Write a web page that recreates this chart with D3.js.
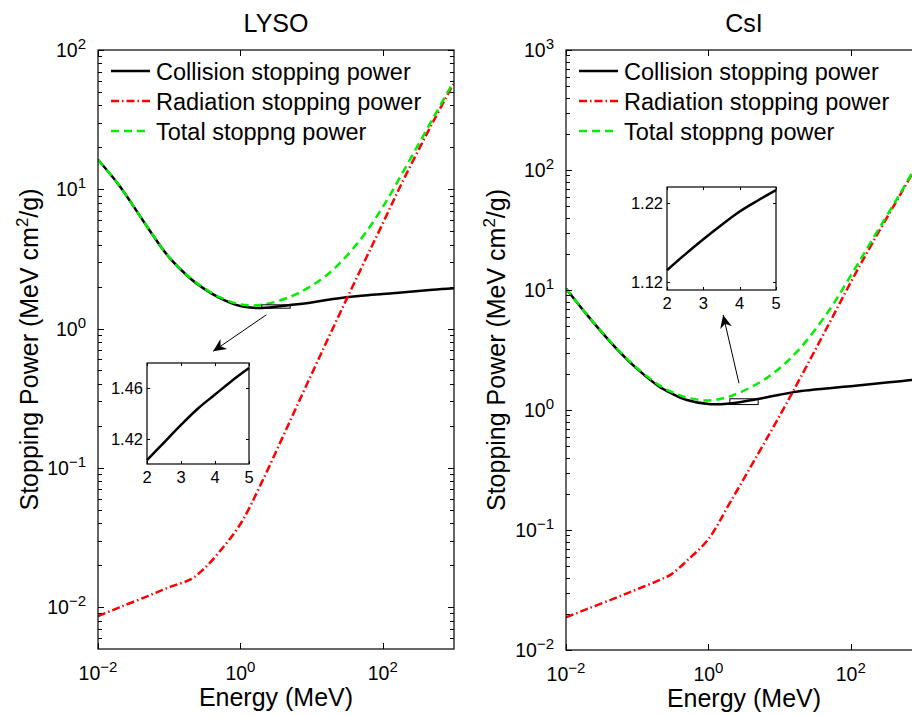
<!DOCTYPE html>
<html>
<head>
<meta charset="utf-8">
<script src="https://cdn.jsdelivr.net/npm/d3@7"></script>
<style>
  body { margin: 0; background: #fff; }
  svg { display: block; font-family: "Liberation Sans", Arial, sans-serif; }
</style>
</head>
<body>
<div id="root"></div>
<script>
// energies (MeV) at which the curves were read
var energy = [0.01, 0.02, 0.05, 0.1, 0.2, 0.3, 0.5, 1, 2, 5, 10, 20, 50, 100, 200, 500, 1000];

// LYSO stopping powers (MeV cm2/g)
var lysoCollision = [16.3, 10.6, 5.3, 3.24, 2.28, 1.95, 1.67, 1.45, 1.403, 1.476, 1.54, 1.63, 1.72, 1.77, 1.82, 1.90, 1.95];
var lysoRadiation = [0.0086, 0.00995, 0.0120, 0.0139, 0.0158, 0.0186, 0.0247, 0.0395, 0.0789, 0.218, 0.471, 1.01, 2.72, 5.7, 12.0, 30, 58];
var lysoTotal = [16.3, 10.6, 5.31, 3.25, 2.30, 1.97, 1.69, 1.49, 1.48, 1.69, 2.03, 2.64, 4.44, 7.47, 13.8, 31.9, 60];

// CsI stopping powers (MeV cm2/g)
var csiCollision = [10.3, 6.15, 3.30, 2.20, 1.58, 1.38, 1.21, 1.12, 1.135, 1.236, 1.34, 1.44, 1.52, 1.58, 1.65, 1.74, 1.81];
var csiRadiation = [0.0187, 0.0220, 0.0272, 0.0321, 0.0380, 0.0427, 0.0555, 0.084, 0.168, 0.432, 0.893, 1.90, 5.3, 11.6, 24.5, 63, 129];
var csiTotal = [10.3, 6.17, 3.33, 2.23, 1.62, 1.42, 1.27, 1.20, 1.30, 1.67, 2.23, 3.34, 6.82, 13.2, 26.2, 64.7, 131];

// zoomed-in collision curve, 2-5 MeV
var zoomEnergy = [2, 2.5, 3, 3.5, 4, 4.5, 5];
var lysoZoom = [1.403, 1.417, 1.431, 1.444, 1.455, 1.466, 1.476];
var csiZoom = [1.135, 1.155, 1.174, 1.192, 1.209, 1.223, 1.236];

var seriesNames = ["Collision stopping power", "Radiation stopping power", "Total stoppng power"];
var xTickValues = [1e-2, 1e0, 1e2];

var svgWidth = 912, svgHeight = 716;
var svg = d3.select("#root").append("svg")
    .attr("width", svgWidth)
    .attr("height", svgHeight);

svg.append("defs").append("marker")
    .attr("id", "head")
    .attr("viewBox", "-15 -7 16 14")
    .attr("markerWidth", 16)
    .attr("markerHeight", 14)
    .attr("markerUnits", "userSpaceOnUse")
    .attr("orient", "auto")
    .append("path")
    .attr("d", "M0,0L-13,-6L-9,0L-13,6Z")
    .attr("fill", "#000");

var styles = [
    {color: "#000", dash: null, width: 2.5},
    {color: "#ff0000", dash: "8,3,1.5,3", width: 2.5},
    {color: "#00ee00", dash: "8,5", width: 2.5}
];

function expLabel(sel, exp) {
    sel.append("tspan").text("10");
    sel.append("tspan")
        .attr("dy", -8)
        .attr("font-size", 15)
        .text(exp < 0 ? "\u2212" + (-exp) : exp);
}

function panel(o) {
    var g = svg.append("g").attr("transform", "translate(" + o.left + "," + o.top + ")");
    var w = o.width, h = o.height;

    var x = d3.scaleLog().domain([0.01, 1000]).range([0, w]);
    var y = d3.scaleLog().domain(o.yDomain).range([h, 0]);

    var id = "clip" + o.left;
    svg.select("defs").append("clipPath").attr("id", id)
        .append("rect").attr("width", w).attr("height", h);

    // curves
    var line = d3.line()
        .x(function (d) { return x(d[0]); })
        .y(function (d) { return y(d[1]); })
        .curve(d3.curveCatmullRom.alpha(0.5));

    var curves = g.append("g").attr("clip-path", "url(#" + id + ")");
    o.series.forEach(function (s, i) {
        curves.append("path")
            .datum(energy.map(function (e, j) { return [e, s[j]]; }))
            .attr("d", line)
            .attr("fill", "none")
            .attr("stroke", styles[i].color)
            .attr("stroke-width", styles[i].width)
            .attr("stroke-dasharray", styles[i].dash);
    });

    // y ticks: majors + minors, inward on both sides
    var lo = Math.log10(o.yDomain[0]), hi = Math.log10(o.yDomain[1]);
    var yMajor = d3.range(Math.ceil(lo), Math.floor(hi) + 1);
    var yMinor = [];
    d3.range(Math.floor(lo), Math.ceil(hi)).forEach(function (p) {
        for (var m = 2; m < 10; m++) {
            var v = m * Math.pow(10, p);
            if (v > o.yDomain[0] && v < o.yDomain[1]) yMinor.push(v);
        }
    });

    var ticks = g.append("g").attr("stroke", "#000").attr("stroke-width", 1);
    yMajor.forEach(function (p) {
        var yy = Math.round(y(Math.pow(10, p))) + 0.5;
        ticks.append("line").attr("x1", 0).attr("x2", 6).attr("y1", yy).attr("y2", yy);
        ticks.append("line").attr("x1", w).attr("x2", w - 6).attr("y1", yy).attr("y2", yy);
    });
    yMinor.forEach(function (v) {
        var yy = Math.round(y(v)) + 0.5;
        ticks.append("line").attr("x1", 0).attr("x2", 4).attr("y1", yy).attr("y2", yy);
        ticks.append("line").attr("x1", w).attr("x2", w - 4).attr("y1", yy).attr("y2", yy);
    });
    xTickValues.forEach(function (v) {
        var xx = Math.round(x(v)) + 0.5;
        ticks.append("line").attr("x1", xx).attr("x2", xx).attr("y1", h).attr("y2", h - 6);
        ticks.append("line").attr("x1", xx).attr("x2", xx).attr("y1", 0).attr("y2", 6);
    });

    // frame
    g.append("rect")
        .attr("width", w).attr("height", h)
        .attr("fill", "none").attr("stroke", "#000").attr("stroke-width", 1.2);

    // tick labels
    yMajor.forEach(function (p) {
        g.append("text")
            .attr("x", -12)
            .attr("y", y(Math.pow(10, p)) + 7)
            .attr("text-anchor", "end")
            .attr("font-size", 19.5)
            .call(expLabel, p);
    });
    xTickValues.forEach(function (v) {
        g.append("text")
            .attr("x", x(v))
            .attr("y", h + 31)
            .attr("text-anchor", "middle")
            .attr("font-size", 19.5)
            .call(expLabel, Math.round(Math.log10(v)));
    });

    // titles
    g.append("text")
        .attr("x", w / 2).attr("y", -18)
        .attr("text-anchor", "middle")
        .attr("font-size", 25)
        .text(o.title);
    g.append("text")
        .attr("x", w / 2).attr("y", h + 57)
        .attr("text-anchor", "middle")
        .attr("font-size", 25)
        .text("Energy (MeV)");
    var yl = g.append("text")
        .attr("transform", "translate(" + o.yLabelX + "," + (h / 2) + ") rotate(-90)")
        .attr("text-anchor", "middle")
        .attr("font-size", 25);
    yl.append("tspan").text("Stopping Power (MeV cm");
    yl.append("tspan").attr("dy", -10).attr("font-size", 17).text("2");
    yl.append("tspan").attr("dy", 10).text("/g)");

    // legend
    var leg = g.append("g").attr("transform", "translate(13,21)");
    seriesNames.forEach(function (name, i) {
        var row = leg.append("g").attr("transform", "translate(0," + i * 30 + ")");
        row.append("line")
            .attr("x1", 0).attr("x2", 39)
            .attr("stroke", styles[i].color)
            .attr("stroke-width", styles[i].width)
            .attr("stroke-dasharray", styles[i].dash);
        row.append("text")
            .attr("x", 45).attr("y", 9)
            .attr("font-size", 23.5)
            .text(name);
    });

    // marker box around 2-5 MeV on the main curve
    g.append("rect")
        .attr("x", x(2)).attr("y", y(o.zoomDomain[1]))
        .attr("width", x(5) - x(2))
        .attr("height", y(o.zoomDomain[0]) - y(o.zoomDomain[1]))
        .attr("fill", "none").attr("stroke", "#000").attr("stroke-width", 1);

    // arrow to the inset
    g.append("line")
        .attr("x1", x(o.arrow[0][0])).attr("y1", y(o.arrow[0][1]))
        .attr("x2", x(o.arrow[1][0])).attr("y2", y(o.arrow[1][1]))
        .attr("stroke", "#000").attr("stroke-width", 1)
        .attr("marker-end", "url(#head)");

    // inset
    var ins = o.inset;
    var ig = svg.append("g").attr("transform", "translate(" + ins.left + "," + ins.top + ")");
    var ix = d3.scaleLinear().domain([2, 5]).range([0, ins.width]);
    var iy = d3.scaleLinear().domain(o.zoomDomain).range([ins.height, 0]);
    ig.append("rect")
        .attr("width", ins.width).attr("height", ins.height)
        .attr("fill", "#fff");
    ig.append("path")
        .datum(zoomEnergy.map(function (e, j) { return [e, o.zoom[j]]; }))
        .attr("d", d3.line()
            .x(function (d) { return ix(d[0]); })
            .y(function (d) { return iy(d[1]); })
            .curve(d3.curveCatmullRom.alpha(0.5)))
        .attr("fill", "none").attr("stroke", "#000").attr("stroke-width", 2.5);
    var it = ig.append("g").attr("stroke", "#000").attr("stroke-width", 1);
    [2, 3, 4, 5].forEach(function (v) {
        var xx = Math.round(ix(v)) + 0.5;
        it.append("line").attr("x1", xx).attr("x2", xx).attr("y1", ins.height).attr("y2", ins.height - 3);
        it.append("line").attr("x1", xx).attr("x2", xx).attr("y1", 0).attr("y2", 3);
        ig.append("text")
            .attr("x", ix(v)).attr("y", ins.height + 19)
            .attr("text-anchor", "middle").attr("font-size", 16.5)
            .text(v);
    });
    ins.yTicks.forEach(function (v) {
        var yy = Math.round(iy(v)) + 0.5;
        it.append("line").attr("x1", 0).attr("x2", 3).attr("y1", yy).attr("y2", yy);
        it.append("line").attr("x1", ins.width).attr("x2", ins.width - 3).attr("y1", yy).attr("y2", yy);
        ig.append("text")
            .attr("x", -4).attr("y", iy(v) + 6)
            .attr("text-anchor", "end").attr("font-size", 16.5)
            .text(v.toFixed(2));
    });
    ig.append("rect")
        .attr("width", ins.width).attr("height", ins.height)
        .attr("fill", "none").attr("stroke", "#000").attr("stroke-width", 1.2);
}

panel({
    title: "LYSO",
    left: 98, top: 50, width: 356, height: 599,
    yDomain: [0.005, 100],
    yLabelX: -60,
    series: [lysoCollision, lysoRadiation, lysoTotal],
    zoom: lysoZoom,
    zoomDomain: [1.40, 1.48],
    arrow: [[2.32, 1.256], [0.414, 0.686]],
    inset: {left: 147, top: 363, width: 102, height: 101, yTicks: [1.42, 1.46]}
});

panel({
    title: "CsI",
    left: 566, top: 50, width: 356, height: 600,
    yDomain: [0.01, 1000],
    yLabelX: -61,
    series: [csiCollision, csiRadiation, csiTotal],
    zoom: csiZoom,
    zoomDomain: [1.11, 1.24],
    arrow: [[2.69, 1.67], [1.61, 6.19]],
    inset: {left: 667, top: 187, width: 109, height: 103, yTicks: [1.12, 1.22]}
});
</script>
</body>
</html>
